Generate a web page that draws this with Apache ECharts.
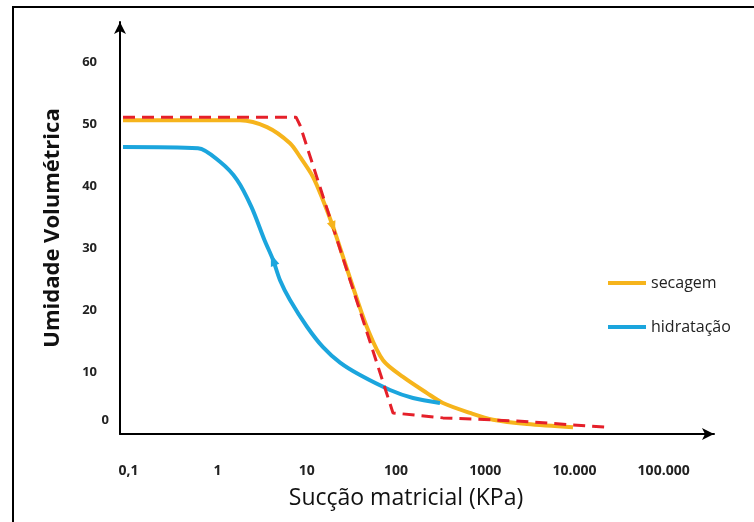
<!DOCTYPE html>
<html>
<head>
<meta charset="utf-8">
<script src="https://cdn.jsdelivr.net/npm/echarts@6/dist/echarts.min.js"></script>
<style>html,body{margin:0;padding:0;background:#fff}#c{width:754px;height:522px}</style>
</head>
<body>
<div id="c"></div>
<script>
// Sucção matricial (kPa) and Umidade volumétrica values
const secagemX = [0.087, 1.78, 3.58, 6.48, 8.39, 11.7, 15.2, 19.7, 26.1, 34.7, 48.5, 71.5, 119.8, 222.6, 336, 676, 1222, 2943, 9640];
const secagemY = [50.6, 50.6, 49.5, 46.9, 44.7, 41.5, 37.7, 33.4, 28.1, 22.7, 16.8, 11.9, 9.2, 6.6, 5.0, 3.4, 2.3, 1.6, 1.1];

const hidratacaoX = [0.087, 0.603, 1.064, 1.65, 2.40, 3.35, 4.18, 5.01, 6.48, 10.05, 15.2, 23.6, 39.5, 85.7, 155, 311];
const hidratacaoY = [46.3, 46.1, 43.9, 41.0, 36.6, 31.3, 28.1, 24.8, 21.6, 17.3, 14.0, 11.5, 9.5, 7.1, 5.8, 5.0];

const modeloX = [0.087, 7.57, 8.39, 92.5, 336, 2274, 22600];
const modeloY = [51.1, 51.1, 49.8, 3.4, 2.6, 2.1, 1.1];

const xTickValues = [0.1, 1, 10, 100, 1000, 10000, 100000];
const xTickLabels = ['0,1', '1', '10', '100', '1000', '10.000', '100.000'];
const yTickValues = [0, 10, 20, 30, 40, 50, 60];

const zip = (xs, ys) => xs.map((x, i) => [x, ys[i]]);

const chart = echarts.init(document.getElementById('c'), null, {renderer: 'canvas'});
const font = '"Open Sans", sans-serif';

chart.setOption({
  animation: false,
  backgroundColor: '#ffffff',
  grid: {left: 120, right: 40, top: 22, bottom: 88, containLabel: false},
  graphic: [{
    type: 'rect', z: 100, silent: true,
    shape: {x: 13, y: 7, width: 780, height: 560},
    style: {fill: 'none', stroke: '#000', lineWidth: 2}
  }],
  legend: {
    data: ['secagem', 'hidratação'],
    orient: 'vertical',
    left: 603, top: 270,
    icon: 'rect',
    itemWidth: 38, itemHeight: 4, itemGap: 28,
    textStyle: {fontFamily: font, fontSize: 16, color: '#222'}
  },
  xAxis: {
    type: 'log',
    logBase: 10,
    min: 0.0805,
    max: 367000,
    name: 'Sucção matricial (KPa)',
    nameLocation: 'middle',
    nameGap: 53,
    nameTextStyle: {fontFamily: font, fontSize: 23, fontWeight: 500, color: '#111', padding: [0, 22, 0, 0]},
    axisLine: {show: true, symbol: ['none', 'arrow'], symbolSize: [9, 12], lineStyle: {color: '#000', width: 2}},
    axisTick: {show: false},
    splitLine: {show: false},
    axisLabel: {
      customValues: xTickValues,
      margin: 30,
      fontFamily: font, fontSize: 14, fontWeight: 'bold', color: '#222',
      formatter: function (v) {
        for (let i = 0; i < xTickValues.length; i++) {
          if (Math.abs(Math.log10(v) - Math.log10(xTickValues[i])) < 1e-6) return xTickLabels[i];
        }
        return '';
      }
    }
  },
  yAxis: {
    type: 'value',
    min: 0,
    max: 66.45,
    interval: 10,
    name: 'Umidade Volumétrica',
    nameLocation: 'middle',
    nameRotate: 90,
    nameGap: 56,
    nameTextStyle: {fontFamily: font, fontSize: 22, fontWeight: 'bold', color: '#111'},
    axisLine: {show: true, symbol: ['none', 'arrow'], symbolSize: [9, 12], lineStyle: {color: '#000', width: 2}},
    axisTick: {show: false},
    splitLine: {show: false},
    axisLabel: {
      margin: 11,
      fontFamily: font, fontSize: 13, fontWeight: 'bold', color: '#222',
      formatter: function (v) {
        if (yTickValues.indexOf(v) < 0) return '';
        return v === 0 ? '{z|0}' : '{n|' + v + '}';
      },
      rich: {
        z: {fontFamily: font, fontSize: 13, fontWeight: 'bold', color: '#222', padding: [0, 0, 28, 0]},
        n: {fontFamily: font, fontSize: 13, fontWeight: 'bold', color: '#222', padding: [0, 12, 0, 0]}
      }
    }
  },
  series: [
    {
      name: 'secagem', type: 'line', data: zip(secagemX, secagemY),
      smooth: 0.3, symbol: 'none', z: 2,
      lineStyle: {color: '#F6B41C', width: 4}, itemStyle: {color: '#F6B41C'},
      markPoint: {
        symbol: 'triangle', symbolSize: [9, 11], symbolRotate: 200, silent: true,
        label: {show: false}, itemStyle: {color: '#F6B41C'},
        data: [{coord: [secagemX[7], secagemY[7]]}]
      }
    },
    {
      name: 'hidratação', type: 'line', data: zip(hidratacaoX, hidratacaoY),
      smooth: 0.3, symbol: 'none', z: 2,
      lineStyle: {color: '#1BA5DD', width: 4}, itemStyle: {color: '#1BA5DD'},
      markPoint: {
        symbol: 'triangle', symbolSize: [9, 12], symbolRotate: 20, silent: true,
        label: {show: false}, itemStyle: {color: '#1BA5DD'},
        data: [{coord: [hidratacaoX[6], hidratacaoY[6]]}]
      }
    },
    {
      name: 'modelo', type: 'line', data: zip(modeloX, modeloY),
      symbol: 'none', z: 3,
      lineStyle: {color: '#E5202A', width: 3, type: [12, 7]}, itemStyle: {color: '#E5202A'}
    }
  ]
});
</script>
</body>
</html>
